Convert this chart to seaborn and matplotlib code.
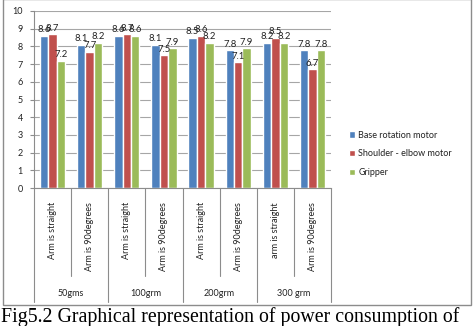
import matplotlib
matplotlib.use("Agg")
import matplotlib.pyplot as plt
import seaborn as sns
import pandas as pd
from matplotlib.patches import Rectangle

conditions = ["Arm is straight", "Arm is 90degrees", "Arm is straight", "Arm is 90degrees",
              "Arm is straight", "Arm is 90degrees", "arm is straight", "Arm is 90degrees"]
weights = ["50gms", "100grm", "200grm", "300 grm"]
series = ["Base rotation motor", "Shoulder - elbow motor", "Gripper"]
base_rotation = [8.6, 8.1, 8.6, 8.1, 8.5, 7.8, 8.2, 7.8]
shoulder_elbow = [8.7, 7.7, 8.7, 7.5, 8.6, 7.1, 8.5, 6.7]
gripper = [7.2, 8.2, 8.6, 7.9, 8.2, 7.9, 8.2, 7.8]
colors = ["#4F81BD", "#C0504D", "#9BBB59"]

rows = []
for i in range(len(conditions)):
    for s, vals in zip(series, [base_rotation, shoulder_elbow, gripper]):
        rows.append({"pos": str(i), "series": s, "value": vals[i]})
df = pd.DataFrame(rows)

sns.set_style("white")
plt.rcParams["font.family"] = ["Lato", "DejaVu Sans"]

W, H = 476, 326
fig = plt.figure(figsize=(W / 100, H / 100), dpi=100)
ax = fig.add_axes([34 / W, 1 - 188 / H, (331 - 34) / W, (188 - 11) / H])

sns.barplot(data=df, x="pos", y="value", hue="series", palette=colors,
            width=0.68, ax=ax, order=[str(i) for i in range(8)],
            hue_order=series, saturation=1, legend=True)

for cont in ax.containers:
    ax.bar_label(cont, fmt="%.1f", fontsize=6.8, padding=1, color="#222222")

ax.set_ylim(0, 10)
ax.set_xlim(-0.5, 7.5)
ax.set_yticks(range(0, 11))
ax.yaxis.grid(True, color="#A6A6A6", linewidth=0.8)
ax.set_axisbelow(True)
ax.set_xlabel("")
ax.set_ylabel("")
for side in ["top", "right"]:
    ax.spines[side].set_visible(False)
for side in ["left", "bottom"]:
    ax.spines[side].set_color("#8C8C8C")
    ax.spines[side].set_linewidth(0.8)
ax.tick_params(axis="y", labelsize=6.5, length=3, color="#8C8C8C", pad=5, left=True,
               labelcolor="#222222")
ax.set_xticks(range(8))
ax.set_xticklabels(conditions, rotation=90, fontsize=6.5, color="#222222")
ax.tick_params(axis="x", length=0, pad=10)

# multi-level category separators
tr = ax.get_xaxis_transform()
ax_h = 188 - 11
y_short = -(276 - 188) / ax_h
y_full = -(302 - 188) / ax_h
for k in range(9):
    x = k - 0.5
    yend = y_full if k % 2 == 0 else y_short
    ax.plot([x, x], [0, yend], transform=tr, color="#8C8C8C", lw=0.8, clip_on=False)
for g, name in enumerate(weights):
    ax.text(2 * g + 0.5, -(293 - 188) / ax_h, name, transform=tr, ha="center",
            va="center", fontsize=6.5, color="#222222")

leg = ax.legend(loc="upper left", bbox_to_anchor=(344 / W, 1 - 126 / H),
                bbox_transform=fig.transFigure, frameon=False, fontsize=6.5,
                handlelength=0.7, handleheight=0.7, handletextpad=0.4,
                labelspacing=1.1, borderpad=0)
for t in leg.get_texts():
    t.set_color("#222222")

# chart border
fig.patches.append(Rectangle((3 / W, 1 - 305 / H), (471 - 3) / W, 306 / H,
                             transform=fig.transFigure, fill=False,
                             edgecolor="#8C8C8C", lw=1))

fig.text(1 / W, 1 - 307 / H, "Fig5.2 Graphical representation of power consumption of",
         ha="left", va="top", fontsize=14.3, family="Liberation Serif", color="black")

fig.savefig("out.png", dpi=100)
